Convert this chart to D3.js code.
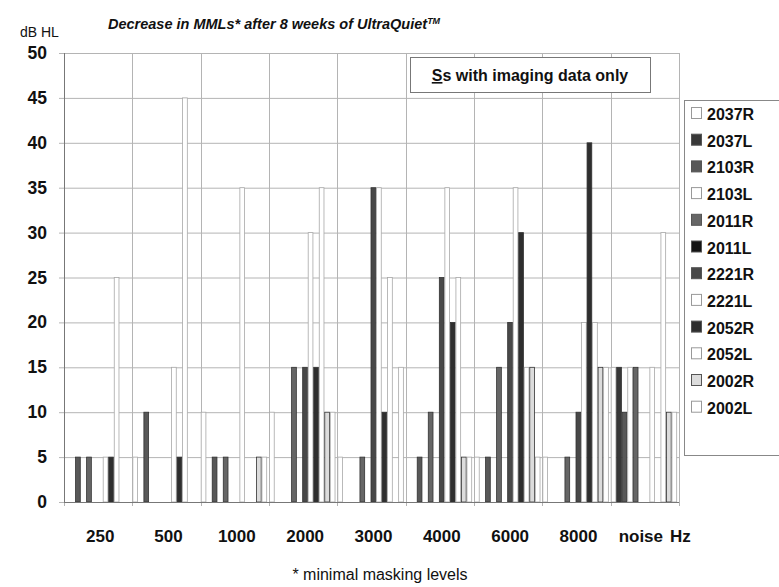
<!DOCTYPE html>
<html>
<head>
<meta charset="utf-8">
<script src="https://cdn.jsdelivr.net/npm/d3@7"></script>
<style>
    body { margin: 0; background: #fff; }
    svg { font-family: "Liberation Sans", Arial, sans-serif; }
</style>
</head>
<body>
<div id="chart"></div>
<script>
let categories = ['250', '500', '1000', '2000', '3000', '4000', '6000', '8000', 'noise'];
let yTicks = [0, 5, 10, 15, 20, 25, 30, 35, 40, 45, 50];

let seriesNames = ['2037R', '2037L', '2103R', '2103L', '2011R', '2011L',
    '2221R', '2221L', '2052R', '2052L', '2002R', '2002L'];

// decrease in dB per category, one list per ear
let s2037R = [0, 5, 10, 10, 5, 0, 5, 5, 15];
let s2037L = [0, 0, 0, 0, 0, 0, 0, 0, 15];
let s2103R = [5, 10, 5, 0, 0, 5, 5, 0, 10];
let s2103L = [0, 0, 0, 0, 0, 0, 0, 0, 15];
let s2011R = [5, 0, 5, 15, 5, 10, 15, 5, 15];
let s2011L = [0, 0, 0, 0, 0, 0, 0, 0, 0];
let s2221R = [0, 0, 0, 15, 35, 25, 20, 10, 0];
let s2221L = [5, 15, 35, 30, 35, 35, 35, 20, 15];
let s2052R = [5, 5, 0, 15, 10, 20, 30, 40, 0];
let s2052L = [25, 45, 0, 35, 25, 25, 15, 20, 30];
let s2002R = [0, 0, 5, 10, 0, 5, 15, 15, 10];
let s2002L = [0, 0, 5, 10, 15, 5, 5, 15, 10];

let seriesValues = [s2037R, s2037L, s2103R, s2103L, s2011R, s2011L,
    s2221R, s2221L, s2052R, s2052L, s2002R, s2002L];

let colors = ['#ffffff', '#383838', '#585858', '#ffffff', '#666666', '#141414',
    '#484848', '#ffffff', '#2e2e2e', '#ffffff', '#dcdcdc', '#ffffff'];

let width = 779, height = 587,
    plot = {left: 64, right: 679, top: 53, bottom: 502};

let svg = d3.select('#chart').append('svg')
    .attr('width', width)
    .attr('height', height);

let x0 = d3.scaleBand()
    .domain(categories)
    .range([plot.left, plot.right])
    .padding(0);

let x1 = d3.scaleBand()
    .domain(seriesNames)
    .range([0, x0.bandwidth() - 2])
    .padding(0);

let y = d3.scaleLinear()
    .domain([0, 50])
    .range([plot.bottom, plot.top]);

// grid
svg.append('g')
    .selectAll('line')
    .data(yTicks)
    .enter().append('line')
    .attr('x1', plot.left - 5)
    .attr('x2', plot.right)
    .attr('y1', d => y(d) + 0.5)
    .attr('y2', d => y(d) + 0.5)
    .style('stroke', '#b4b4b4')
    .style('stroke-width', 1);

let bounds = categories.map(c => x0(c)).concat([plot.right]);
svg.append('g')
    .selectAll('line')
    .data(bounds)
    .enter().append('line')
    .attr('x1', d => Math.round(d) + 0.5)
    .attr('x2', d => Math.round(d) + 0.5)
    .attr('y1', plot.top)
    .attr('y2', plot.bottom + 4)
    .style('stroke', '#b4b4b4')
    .style('stroke-width', 1);

// bars
let bars = [];
categories.forEach((c, ci) => {
    seriesNames.forEach((s, si) => {
        bars.push({cat: c, series: s, i: si, v: seriesValues[si][ci]});
    });
});

svg.append('g')
    .selectAll('rect')
    .data(bars.filter(d => d.v > 0))
    .enter().append('rect')
    .attr('x', d => x0(d.cat) + x1(d.series) + 0.5)
    .attr('y', d => y(d.v))
    .attr('width', x1.bandwidth() - 0.8)
    .attr('height', d => y(0) - y(d.v))
    .style('fill', d => colors[d.i])
    .style('stroke', d => colors[d.i] === '#ffffff' ? '#a8a8a8' : '#333')
    .style('stroke-width', 0.8);

// axes
svg.append('line')
    .attr('x1', plot.left + 0.5).attr('x2', plot.left + 0.5)
    .attr('y1', plot.top).attr('y2', plot.bottom)
    .style('stroke', '#777');
svg.append('line')
    .attr('x1', plot.left).attr('x2', plot.right)
    .attr('y1', plot.bottom + 0.5).attr('y2', plot.bottom + 0.5)
    .style('stroke', '#777');

svg.append('g')
    .selectAll('text')
    .data(yTicks)
    .enter().append('text')
    .attr('x', 47)
    .attr('y', d => y(d) + 6)
    .attr('text-anchor', 'end')
    .style('font-size', '17.5px')
    .style('font-weight', 'bold')
    .style('fill', '#111')
    .text(d => d);

svg.append('g')
    .selectAll('text')
    .data(categories)
    .enter().append('text')
    .attr('x', d => x0(d) + x0.bandwidth() / 2 + (d === 'noise' ? -4 : 2))
    .attr('y', 542)
    .attr('text-anchor', 'middle')
    .style('font-size', '17px')
    .style('font-weight', 'bold')
    .style('fill', '#111')
    .text(d => d);

svg.append('text')
    .attr('x', 670).attr('y', 542)
    .style('font-size', '17px')
    .style('font-weight', 'bold')
    .style('fill', '#111')
    .text('Hz');

svg.append('text')
    .attr('x', 20).attr('y', 37)
    .style('font-size', '14px')
    .style('fill', '#111')
    .text('dB HL');

let title = svg.append('text')
    .attr('x', 108).attr('y', 29)
    .style('font-size', '14.5px')
    .style('font-weight', 'bold')
    .style('font-style', 'italic')
    .style('fill', '#111');
title.append('tspan').text('Decrease in MMLs* after 8 weeks of UltraQuiet');
title.append('tspan').attr('dy', -5).style('font-size', '9px').text('TM');

svg.append('text')
    .attr('x', 380).attr('y', 580)
    .attr('text-anchor', 'middle')
    .style('font-size', '16px')
    .style('fill', '#111')
    .text('* minimal masking levels');

// note box
svg.append('rect')
    .attr('x', 410.5).attr('y', 57.5)
    .attr('width', 240).attr('height', 35)
    .style('fill', '#fff')
    .style('stroke', '#777');
let note = svg.append('text')
    .attr('x', 530).attr('y', 81)
    .attr('text-anchor', 'middle')
    .style('font-size', '16px')
    .style('font-weight', 'bold')
    .style('fill', '#111');
note.append('tspan').style('text-decoration', 'underline').text('S');
note.append('tspan').text('s with imaging data only');

// legend
let legend = svg.append('g');
legend.append('rect')
    .attr('x', 684.5).attr('y', 100.5)
    .attr('width', 110).attr('height', 355)
    .style('fill', '#fff')
    .style('stroke', '#888');

let item = legend.selectAll('g.item')
    .data(seriesNames)
    .enter().append('g')
    .attr('class', 'item')
    .attr('transform', (d, i) => 'translate(691,' + (114 + i * 26.7) + ')');

item.append('rect')
    .attr('x', 0.5).attr('y', -6.5)
    .attr('width', 10).attr('height', 11)
    .style('fill', (d, i) => colors[i])
    .style('stroke', (d, i) => colors[i] === '#ffffff' ? '#999' : '#555');

item.append('text')
    .attr('x', 16).attr('y', 6)
    .style('font-size', '16px')
    .style('font-weight', 'bold')
    .style('fill', '#111')
    .text(d => d);
</script>
</body>
</html>
